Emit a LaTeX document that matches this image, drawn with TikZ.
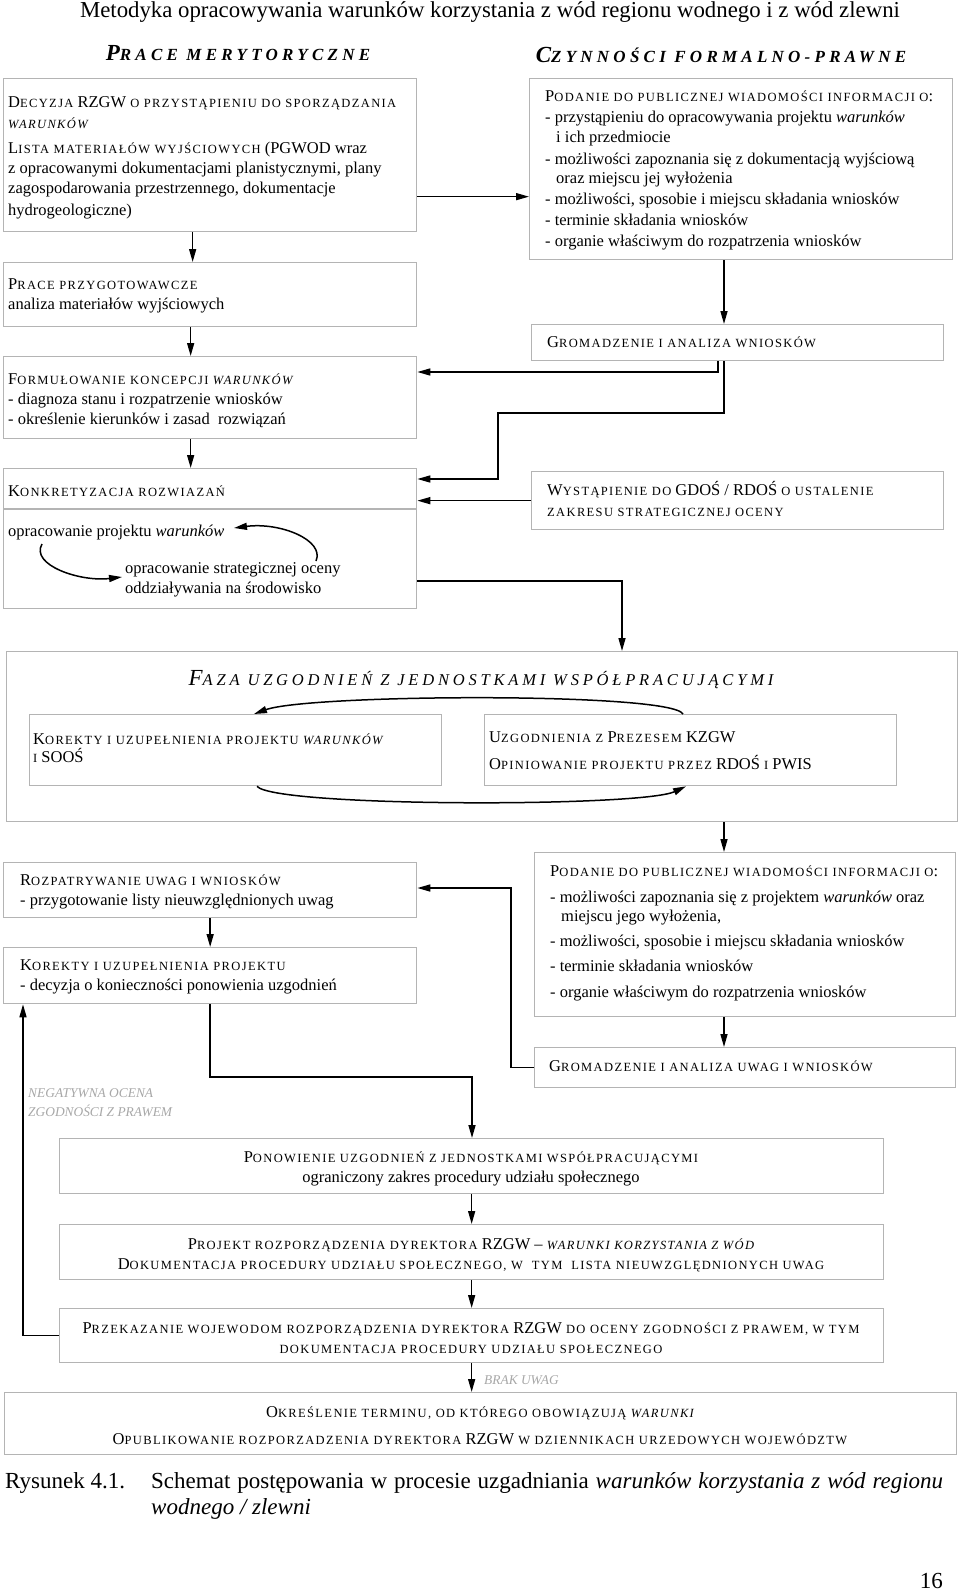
\documentclass[tikz,border=0pt]{standalone}
\usepackage{fontspec}
\setmainfont{Liberation Serif}
\newfontfamily\Hfont[LetterSpace=25]{Liberation Serif}
\newfontfamily\Ffont[LetterSpace=23]{Liberation Serif}
\newfontfamily\ScFont[LetterSpace=11]{Liberation Serif}
\usetikzlibrary{arrows.meta,calc}
\definecolor{boxgray}{HTML}{B4B4B4}
\definecolor{labgray}{HTML}{A8A8A8}
\newcommand\Bfnt{\fontsize{16.5}{19}\selectfont}
\newcommand\Sc[1]{{\ScFont\fontsize{12.5}{14}\selectfont #1}}
\tikzset{
 box/.style={draw=boxgray, line width=1.3pt, anchor=north west, inner sep=0pt},
 tl/.style={anchor=west, inner sep=0pt, text height=11.5pt, text depth=3.5pt, font=\Bfnt},
 tc/.style={tl, anchor=center},
 glab/.style={anchor=west, inner sep=0pt, text height=9pt, text depth=2pt, text=labgray, font=\fontsize{13.4}{15}\selectfont\itshape},
 arr/.style={draw=black, line width=1.5pt, -{Triangle[length=13pt,width=7pt]}},
 hd/.style={inner sep=0pt, anchor=center},
 captxt/.style={tl, text height=15pt, text depth=4pt, font=\fontsize{23}{27}\selectfont}
}
\begin{document}
\begin{tikzpicture}[x=1pt,y=-1pt]
\path[fill=white] (0,0) rectangle (960,1593);
\useasboundingbox (0,0) rectangle (960,1593);

% title and headings
\node[hd, font=\fontsize{22.8}{26}\selectfont] (title) at (490,12) {Metodyka opracowywania warunków korzystania z wód regionu wodnego i z wód zlewni};
\node[hd] (hl) at (238,53) {\Hfont\bfseries\itshape{\fontsize{23}{26}\selectfont P}{\fontsize{17}{19}\selectfont RACE MERYTORYCZNE}};
\node[hd] (hr) at (721,55) {\Hfont\bfseries\itshape{\fontsize{23}{26}\selectfont C}{\fontsize{17}{19}\selectfont ZYNNOŚCI FORMALNO-PRAWNE}};

% ---------- boxes ----------
\node[box, minimum width=413pt, minimum height=153pt] (b1) at (3,78) {};
\node[box, minimum width=413pt, minimum height=64pt] (b2) at (3,262) {};
\node[box, minimum width=413pt, minimum height=82pt] (b3) at (3,356) {};
\node[box, minimum width=413pt, minimum height=140pt] (b4) at (3,468) {};
\draw[draw=boxgray, line width=1.3pt] ([yshift=-41pt]b4.north west) -- ([yshift=-41pt]b4.north east);
\node[box, minimum width=423pt, minimum height=181pt] (r1) at (529,78) {};
\node[box, minimum width=412pt, minimum height=36pt] (r2) at (531,324) {};
\node[box, minimum width=412pt, minimum height=58pt] (r3) at (531,471) {};
\node[box, minimum width=951pt, minimum height=170pt] (faza) at (6,651) {};
\node[box, minimum width=412pt, minimum height=71pt] (fa) at (29,714) {};
\node[box, minimum width=412pt, minimum height=71pt] (fb) at (484,714) {};
\node[box, minimum width=413pt, minimum height=55pt] (c1) at (3,862) {};
\node[box, minimum width=413pt, minimum height=56pt] (c2) at (3,947) {};
\node[box, minimum width=421pt, minimum height=164pt] (p2) at (534,852) {};
\node[box, minimum width=421pt, minimum height=40pt] (g2) at (534,1047) {};
\node[box, minimum width=824pt, minimum height=55pt] (d1) at (59,1138) {};
\node[box, minimum width=824pt, minimum height=55pt] (d2) at (59,1224) {};
\node[box, minimum width=824pt, minimum height=54pt] (d3) at (59,1308) {};
\node[box, minimum width=952pt, minimum height=62pt] (d4) at (4,1392) {};

% ---------- texts ----------
\node[tl] (t1a) at (8,103) {D\Sc{ECYZJA} RZGW \Sc{O PRZYSTĄPIENIU DO SPORZĄDZANIA}};
\node[tl] (t1b) at (8,124) {\Sc{\itshape WARUNKÓW}};
\node[tl] (t1c) at (8,149) {L\Sc{ISTA MATERIAŁÓW WYJŚCIOWYCH} (PGWOD wraz};
\node[tl] (t1d) at (8,169) {z opracowanymi dokumentacjami planistycznymi, plany};
\node[tl] (t1e) at (8,189) {zagospodarowania przestrzennego, dokumentacje};
\node[tl] (t1f) at (8,211) {hydrogeologiczne)};

\node[tl] (t2a) at (8,285) {P\Sc{RACE PRZYGOTOWAWCZE}};
\node[tl] (t2b) at (8,305) {analiza materiałów wyjściowych};

\node[tl] (t3a) at (8,380) {F\Sc{ORMUŁOWANIE KONCEPCJI \itshape WARUNKÓW}};
\node[tl] (t3b) at (8,400) {- diagnoza stanu i rozpatrzenie wniosków};
\node[tl] (t3c) at (8,420) {- określenie kierunków i zasad\ \ rozwiązań};

\node[tl] (t4a) at (8,492) {K\Sc{ONKRETYZACJA ROZWIAZAŃ}};
\node[tl] (t4b) at (8,532) {opracowanie projektu \textit{warunków}};
\node[tl] (t4c) at (125,569) {opracowanie strategicznej oceny};
\node[tl] (t4d) at (125,589) {oddziaływania na środowisko};

\node[tl] (r1a) at (545,97) {P\Sc{ODANIE DO PUBLICZNEJ WIADOMOŚCI INFORMACJI O}:};
\node[tl] (r1b) at (545,118) {- przystąpieniu do opracowywania projektu \textit{warunków}};
\node[tl] (r1c) at (556,138) {i ich przedmiocie};
\node[tl] (r1d) at (545,160) {- możliwości zapoznania się z dokumentacją wyjściową};
\node[tl] (r1e) at (556,179) {oraz miejscu jej wyłożenia};
\node[tl] (r1f) at (545,200) {- możliwości, sposobie i miejscu składania wniosków};
\node[tl] (r1g) at (545,221) {- terminie składania wniosków};
\node[tl] (r1h) at (545,242) {- organie właściwym do rozpatrzenia wniosków};

\node[tl] (r2a) at (547,343) {G\Sc{ROMADZENIE I ANALIZA WNIOSKÓW}};
\node[tl] (r3a) at (547,491) {W\Sc{YSTĄPIENIE DO} GDOŚ / RDOŚ \Sc{O USTALENIE}};
\node[tl] (r3b) at (547,512) {\Sc{ZAKRESU STRATEGICZNEJ OCENY}};

\node[hd] (fazah) at (481,680) {\Ffont\itshape{\fontsize{23}{26}\selectfont F}{\fontsize{16.5}{19}\selectfont AZA UZGODNIEŃ Z JEDNOSTKAMI WSPÓŁPRACUJĄCYMI}};
\node[tl] (faa) at (33,740) {K\Sc{OREKTY I UZUPEŁNIENIA PROJEKTU \itshape WARUNKÓW}};
\node[tl] (fab) at (33,758) {\Sc{I} SOOŚ};
\node[tl] (fba) at (489,738) {U\Sc{ZGODNIENIA Z} P\Sc{REZESEM} KZGW};
\node[tl] (fbb) at (489,765) {O\Sc{PINIOWANIE PROJEKTU PRZEZ} RDOŚ \Sc{I} PWIS};

\node[tl] (c1a) at (20,881) {R\Sc{OZPATRYWANIE UWAG I WNIOSKÓW}};
\node[tl] (c1b) at (20,901) {- przygotowanie listy nieuwzględnionych uwag};
\node[tl] (c2a) at (20,966) {K\Sc{OREKTY I UZUPEŁNIENIA PROJEKTU}};
\node[tl] (c2b) at (20,986) {- decyzja o konieczności ponowienia uzgodnień};

\node[tl] (p2a) at (550,872) {P\Sc{ODANIE DO PUBLICZNEJ WIADOMOŚCI INFORMACJI O}:};
\node[tl] (p2b) at (550,898) {- możliwości zapoznania się z projektem \textit{warunków} oraz};
\node[tl] (p2c) at (561,917) {miejscu jego wyłożenia,};
\node[tl] (p2d) at (550,942) {- możliwości, sposobie i miejscu składania wniosków};
\node[tl] (p2e) at (550,967) {- terminie składania wniosków};
\node[tl] (p2f) at (550,993) {- organie właściwym do rozpatrzenia wniosków};
\node[tl] (g2a) at (549,1067) {G\Sc{ROMADZENIE I ANALIZA UWAG I WNIOSKÓW}};

\node[glab] (neg1) at (28,1094) {NEGATYWNA OCENA};
\node[glab] (neg2) at (28,1113) {ZGODNOŚCI Z PRAWEM};

\node[tc] (d1a) at (471,1158) {P\Sc{ONOWIENIE UZGODNIEŃ Z JEDNOSTKAMI WSPÓŁPRACUJĄCYMI}};
\node[tc] (d1b) at (471,1178) {ograniczony zakres procedury udziału społecznego};
\node[tc] (d2a) at (471,1245) {P\Sc{ROJEKT ROZPORZĄDZENIA DYREKTORA} RZGW -- \Sc{\itshape WARUNKI KORZYSTANIA Z WÓD}};
\node[tc] (d2b) at (471,1265) {D\Sc{OKUMENTACJA PROCEDURY UDZIAŁU SPOŁECZNEGO, W\ \ TYM\ \ LISTA NIEUWZGLĘDNIONYCH UWAG}};
\node[tc] (d3a) at (471,1329) {P\Sc{RZEKAZANIE WOJEWODOM ROZPORZĄDZENIA DYREKTORA} RZGW \Sc{DO OCENY ZGODNOŚCI Z PRAWEM, W TYM}};
\node[tc] (d3b) at (471,1349) {\Sc{DOKUMENTACJA PROCEDURY UDZIAŁU SPOŁECZNEGO}};
\node[glab] (brak) at (484,1381) {BRAK UWAG};
\node[tc] (d4a) at (480,1413) {O\Sc{KREŚLENIE TERMINU, OD KTÓREGO OBOWIĄZUJĄ \itshape WARUNKI}};
\node[tc] (d4b) at (480,1440) {O\Sc{PUBLIKOWANIE ROZPORZADZENIA DYREKTORA} RZGW \Sc{W DZIENNIKACH URZEDOWYCH WOJEWÓDZTW}};

% caption
\node[captxt] (cap1) at (5,1483) {Rysunek 4.1.};
\node[captxt] (cap2) at (151,1483) {\makebox[792pt][s]{Schemat postępowania w procesie uzgadniania \textit{warunków korzystania z wód regionu}}};
\node[captxt] (cap3) at (151,1509) {\textit{wodnego / zlewni}};
\node[captxt, anchor=east] (pg) at (943,1583) {16};

% ---------- helper coordinates ----------
\coordinate (ax) at (724,0);
\coordinate (k1) at (718,372);
\coordinate (k2) at (498,413);
\coordinate (k3) at (498,479);
\coordinate (k4) at (622,581);
\coordinate (top1) at (683,0);
\coordinate (top2) at (254,0);
\coordinate (k7) at (511,888);
\coordinate (k8) at (472,1077);
\coordinate (k9) at (23,1335);
\coordinate (bot1) at (257,0);
\coordinate (bot2) at (686,0);
\coordinate (q1) at (42,544);
\coordinate (q2) at (122,577);
\coordinate (q3) at (316,561);
\coordinate (q4) at (234,528);

% ---------- connectors ----------
\draw[arr] ([xshift=-17.5pt]b1.south) -- ([xshift=-17.5pt]b2.north);
\draw[arr] ([xshift=-19.5pt]b2.south) -- ([xshift=-19.5pt]b3.north);
\draw[arr] ([xshift=-19.5pt]b3.south) -- ([xshift=-19.5pt]b4.north);
\draw[arr] ([yshift=-41.5pt]b1.east) -- ([yshift=-41.5pt]b1.east -| r1.west);
\draw[arr] (r1.south -| ax) -- (r2.north -| ax);
\draw[arr] (r2.south -| k1) |- (b3.east |- k1);
\draw[arr] (r2.south -| ax) |- (k2) -- (k3) -- (k3 -| b4.east);
\draw[arr] (r3.west) -- (r3.west -| b4.east);
\draw[arr] (k4 -| b4.east) -| (faza.north -| k4);
\draw[arr] (q1) .. controls (30,565) and (80,582) .. (q2);
\draw[arr] (q3) .. controls (325,540) and (280,522) .. (q4);
\draw[arr] (fb.north -| top1) .. controls +(-12,-22) and +(55,-20) .. (fa.north -| top2);
\draw[arr] (fa.south -| bot1) .. controls +(18,21) and +(-45,21) .. (fb.south -| bot2);
\draw[arr] (faza.south -| ax) -- (p2.north -| ax);
\draw[arr] (p2.south -| ax) -- (g2.north -| ax);
\draw[arr] (g2.west) -| (k7) -- (k7 -| c1.east);
\draw[arr] (c1.south) -- (c2.north);
\draw[arr] (c2.south) |- (k8) -- (k8 |- d1.north);
\draw[arr] (d1.south) -- (d2.north);
\draw[arr] (d2.south) -- (d3.north);
\draw[arr] (d3.south) -- (d3.south |- d4.north);
\draw[arr] (d3.west) -| (k9 |- c2.south);
\end{tikzpicture}
\end{document}
